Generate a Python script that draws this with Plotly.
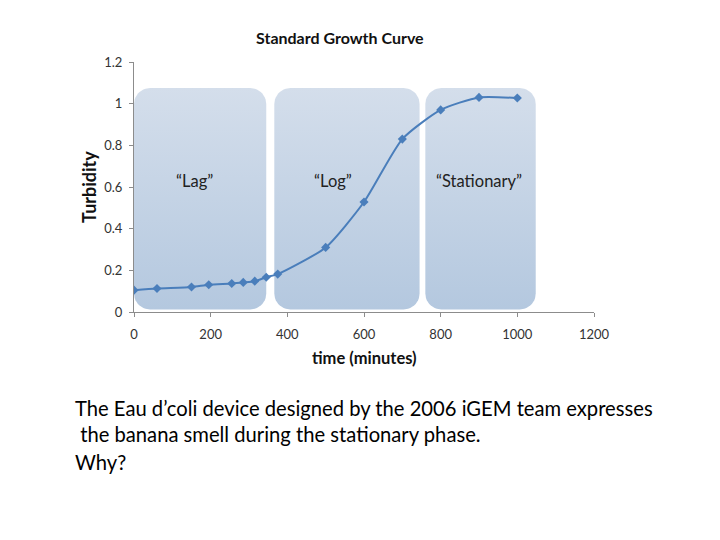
import numpy as np
import plotly.graph_objects as go

# ---- data ----
time_min = [0, 60, 150, 195, 255, 285, 315, 345, 375, 500, 600, 700, 800, 900, 1000]
turbidity = [0.105, 0.113, 0.120, 0.131, 0.137, 0.142, 0.148, 0.167, 0.182, 0.310, 0.528, 0.830, 0.970, 1.030, 1.027]

phase_names = ["\u201cLag\u201d", "\u201cLog\u201d", "\u201cStationary\u201d"]
phase_start = [0, 366, 760]
phase_end = [345, 745, 1048]
phase_label_x = [159, 518, 901]
phase_label_y = [0.63, 0.63, 0.63]
box_bottom, box_top = 0.012, 1.075

title_text = "Standard Growth Curve"
x_title = "time (minutes)"
y_title = "Turbidity"
caption_lines = [
    "The Eau d\u2019coli device designed by the 2006 iGEM team expresses",
    " the banana smell during the stationary phase.",
    "Why?",
]

# ---- layout geometry (pixels) ----
W, H = 720, 540
L, R, T, B = 134, 126, 62, 228
pw, ph = W - L - R, H - T - B
xmax, ymax = 1200, 1.2
px_per_x = pw / xmax
px_per_y = ph / ymax


def rounded_rect(x0, x1, y0, y1, rpx=16, n=12):
    rx = rpx / px_per_x
    ry = rpx / px_per_y
    xs, ys = [], []
    corners = [
        (x1 - rx, y1 - ry, 0, 90),
        (x0 + rx, y1 - ry, 90, 180),
        (x0 + rx, y0 + ry, 180, 270),
        (x1 - rx, y0 + ry, 270, 360),
    ]
    for cx, cy, a0, a1 in corners:
        for a in np.linspace(np.radians(a0), np.radians(a1), n):
            xs.append(cx + rx * np.cos(a))
            ys.append(cy + ry * np.sin(a))
    xs.append(xs[0])
    ys.append(ys[0])
    return xs, ys


fig = go.Figure()

for s, e in zip(phase_start, phase_end):
    bx, by = rounded_rect(s, e, box_bottom, box_top)
    fig.add_trace(go.Scatter(
        x=bx, y=by, mode="lines", fill="toself",
        line=dict(width=0, color="rgba(0,0,0,0)"),
        fillgradient=dict(type="vertical",
                          colorscale=[[0, "#b4c8df"], [1, "#d4deeb"]]),
        hoverinfo="skip", showlegend=False,
    ))

fig.add_trace(go.Scatter(
    x=time_min, y=turbidity, mode="lines+markers",
    line=dict(color="#4a7ebb", width=2, shape="spline", smoothing=0.6),
    marker=dict(symbol="diamond", size=7, color="#4a7ebb"),
    showlegend=False,
))

for name, lx, ly in zip(phase_names, phase_label_x, phase_label_y):
    fig.add_annotation(x=lx, y=ly, text=name, showarrow=False,
                       xanchor="center", yanchor="middle",
                       font=dict(family="Lato", size=16.5, color="#222"))


def px2paper(xp, yp):
    return (xp - L) / pw, (H - B - yp) / ph


def paper_text(xp, yp, text, size, xanchor="center", angle=0):
    x, y = px2paper(xp, yp)
    fig.add_annotation(x=x, y=y, xref="paper", yref="paper", text=text,
                       showarrow=False, xanchor=xanchor, yanchor="middle",
                       textangle=angle,
                       font=dict(family="Lato", size=size, color="#111"))


paper_text(340, 38, "<b>%s</b>" % title_text, 16)
paper_text(364, 358, "<b>%s</b>" % x_title, 16.5)
paper_text(89, 187, "<b>%s</b>" % y_title, 18, angle=-90)

cap_pos = [(73, 408), (73, 434), (73, 462)]
for line, (cxp, cyp) in zip(caption_lines, cap_pos):
    t = line.replace(" ", "\u00a0", 1) if line.startswith(" ") else line
    x, y = px2paper(cxp, cyp)
    fig.add_annotation(x=x, y=y, xref="paper", yref="paper", text=t,
                       showarrow=False, xanchor="left", yanchor="middle",
                       font=dict(family="Lato", size=20.2, color="#000"))

axis_common = dict(showline=True, linecolor="#8c8c8c", linewidth=1,
                   ticks="outside", ticklen=4, tickcolor="#8c8c8c",
                   showgrid=False, zeroline=False,
                   tickfont=dict(family="Lato", size=13, color="#333"))

fig.update_layout(
    width=W, height=H,
    margin=dict(l=L, r=R, t=T, b=B),
    paper_bgcolor="white", plot_bgcolor="white",
    xaxis=dict(range=[0, xmax], tickvals=list(range(0, 1201, 200)),
               ticklabelstandoff=6, **axis_common),
    yaxis=dict(range=[0, ymax], tickvals=[0, 0.2, 0.4, 0.6, 0.8, 1.0, 1.2],
               ticktext=["0", "0.2", "0.4", "0.6", "0.8", "1", "1.2"],
               ticklabelstandoff=4, **axis_common),
)

fig.write_html("out.html")
